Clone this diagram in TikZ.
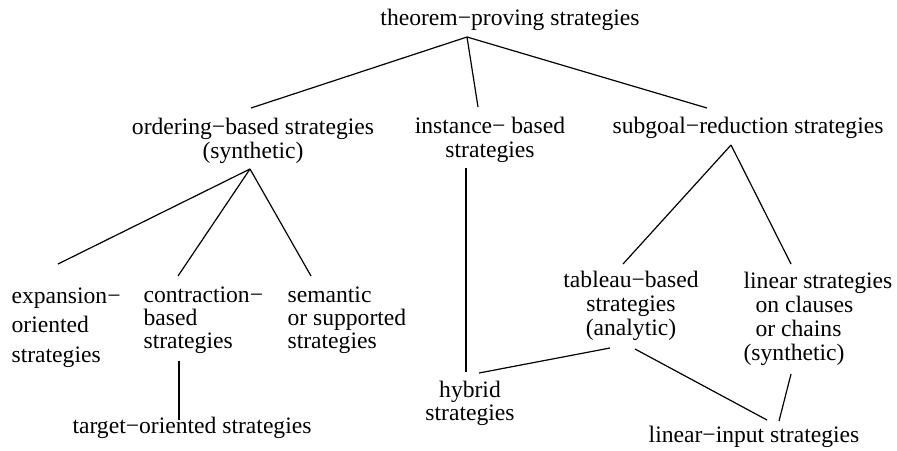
\documentclass[tikz,border=0pt]{standalone}
\usepackage{fontspec}
\setmainfont{Liberation Serif}
\begin{document}
\begin{tikzpicture}[x=0.5pt,y=-0.5pt,line width=0.6pt,
                    every node/.style={inner sep=0pt,font=\fontsize{11.8}{12}\selectfont}]
  \tikzstyle{mid}=[anchor=base,align=center]
  \tikzstyle{lft}=[anchor=base west,align=left]
  \useasboundingbox (0,0) rectangle (897,450);

  % nodes sit on the baseline of their last line
  \node[mid] (root) at (510,25)  {theorem−proving strategies};
  \node[mid] (ord)  at (253,158) {ordering−based strategies\\(synthetic)};
  \node[mid] (inst) at (490,157) {instance− based\\strategies};
  \node[mid] (sub)  at (748,133) {subgoal−reduction strategies};
  \node[lft] (exp)  at (11,362)  {expansion−\\[2.75pt]oriented\\[2.75pt]strategies};
  \node[lft] (con)  at (143,348) {contraction−\\[-0.65pt]based\\[-0.65pt]strategies};
  \node[lft] (sem)  at (287,348) {semantic\\[-0.65pt]or supported\\[-0.65pt]strategies};
  \node[mid] (tgt)  at (192,433) {target−oriented strategies};
  \node[mid] (hyb)  at (470,420) {hybrid\\[-0.5pt]strategies};
  \node[mid] (tab)  at (631,335) {tableau−based\\strategies\\(analytic)};
  \node[lft] (lin)  at (743,360) {linear strategies\\\hspace*{6pt}on clauses\\\hspace*{6pt}or chains\\(synthetic)};
  \node[mid] (lii)  at (754,442) {linear−input strategies};

  % first level
  \draw ([shift={(-43,12)}]root.base) -- ([shift={(-2,-50)}]ord.base)
        ([shift={(-43,12)}]root.base) -- ([shift={(-12,-50)}]inst.base)
        ([shift={(-43,12)}]root.base) -- ([shift={(-41,-25)}]sub.base);
  % ordering-based
  \draw ([shift={(-3,11)}]ord.base) -- ([shift={(47,-98)}]exp.base west)
        ([shift={(-3,11)}]ord.base) -- ([shift={(35,-72)}]con.base west)
        ([shift={(-3,11)}]ord.base) -- ([shift={(24,-72)}]sem.base west);
  \draw ([shift={(36,13)}]con.base west) -- ([shift={(-13,-13)}]tgt.base);
  % instance-based
  \draw ([shift={(-24,11)}]inst.base) -- ([shift={(-4,-48)}]hyb.base);
  % subgoal-reduction
  \draw ([shift={(-17,12)}]sub.base) -- ([shift={(-8,-71)}]tab.base)
        ([shift={(-17,12)}]sub.base) -- ([shift={(48,-96)}]lin.base west);
  \draw ([shift={(-21,13)}]tab.base) -- ([shift={(9,-47)}]hyb.base);
  \draw ([shift={(4,14)}]tab.base) -- ([shift={(13,-22)}]lii.base);
  \draw ([shift={(48,14)}]lin.base west) -- ([shift={(25,-21)}]lii.base);
\end{tikzpicture}
\end{document}
